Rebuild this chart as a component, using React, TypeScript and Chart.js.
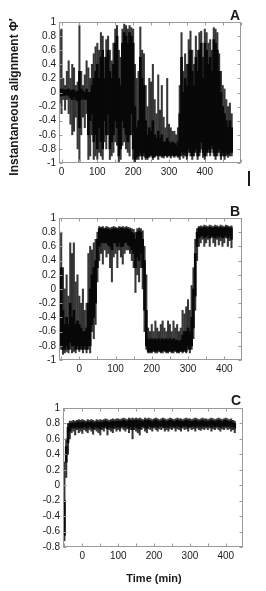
import React, { useEffect, useRef } from "react";
import { Chart, registerables } from "chart.js";
Chart.register(...registerables);

// ---------- Panel A data (time in min, envelope of Φ' per 5-min bin) ----------
const A_T = [-5,0,5,10,15,20,25,30,35,40,45,50,55,60,65,70,75,80,85,90,95,100,105,110,115,120,125,130,135,140,145,150,155,160,165,170,175,180,185,190,195,200,205,210,215,220,225,230,235,240,245,250,255,260,265,270,275,280,285,290,295,300,305,310,315,320,325,330,335,340,345,350,355,360,365,370,375,380,385,390,395,400,405,410,415,420,425,430,435,440,445,450,455,460,465,470,475];
const A_HI = [.88,.9,.2,.1,.3,.45,.2,.4,.35,.1, .15,.95,.3,.1,.25,.45,.35,.2,.4,.55, .65,.7,.6,.85,.8,.5,.75,.8,.6,.45, .7,.9,.95,.6,.5,.9,.97,.95,.9,.95, .92,.9,.4,.2,.3,.93,.6,.55,.1,-.2, .2,.15,.4,-.1,-.3,.25,-.25,.1,-.35,-.5, .2,-.45,-.5,-.55,-.55,-.6,-.5,.1,.85,.3, .55,.4,.75,.87,.6,.4,.8,.6,.85,.87, .5,.9,.85,.7,.75,.6,.92,.9,.85,.55, .3,.1,.05,-.1,-.2,-.15,-.3];
const A_LO = [-.15,-.3,-.1,-.25,-.1,-.3,-.45,-.6,-.55,-.35, -.8,-1,-.6,-.35,-.5,-.3,-.95,-.9,-.6,-.95, -.9,-.95,-.85,-.9,-.95,-.7,-.8,-.6,-.95,-.9, -.85,-.7,-.75,-1,-.95,-.75,-.7,-.8,-.85,-.9, -.6,-.95,-1,-.95,-.95,-.9,-.95,-.9,-.95,-.95, -.92,-.9,-.95,-.92,-.9,-.95,-.9,-.92,-.93,-.9, -.92,-.9,-.93,-.9,-.92,-.9,-.92,-.95,-.9,-.93, -.9,-.95,-.85,-.9,-.95,-.9,-.85,-.95,-.9,-.8, -.92,-.95,-.9,-.85,-.9,-.8,-.9,-.95,-.9,-.85, -.95,-.9,-.95,-.9,-.92,-.9,-.9];
const A_CORE_HI = [.05,.05,.04,.03,.04,.05,.02,.04,.03,0, .02,.3,.05,.02,0,.05,0,0,.1,.2, .3,.4,.2,.5,.6,.2,.5,.6,.3,.2, .4,.7,.8,.2,.1,.7,.85,.8,.7,.85, .8,.7,-.2,-.5,-.4,.5,.2,.1,-.4,-.6, -.5,-.55,-.4,-.6,-.65,-.55,-.65,-.6,-.7,-.7, -.65,-.7,-.72,-.7,-.72,-.75,-.7,-.3,.5,0, .2,.1,.4,.6,.3,.1,.5,.3,.6,.7, .2,.7,.6,.4,.5,.3,.75,.7,.6,.3, 0,-.2,-.3,-.4,-.5,-.4,-.5];
const A_CORE_LO = [-.05,-.05,-.04,-.04,-.03,-.05,-.08,-.1,-.06,-.1, -.12,-.5,-.1,-.08,-.1,-.1,-.6,-.4,-.3,-.7, -.6,-.8,-.5,-.7,-.8,-.4,-.6,-.3,-.8,-.7, -.6,-.4,-.5,-.9,-.8,-.4,-.5,-.6,-.7,-.6, -.3,-.8,-.95,-.92,-.9,-.85,-.9,-.85,-.92,-.92, -.9,-.88,-.92,-.9,-.88,-.9,-.88,-.9,-.9,-.88, -.9,-.88,-.9,-.88,-.9,-.88,-.9,-.9,-.85,-.88, -.85,-.9,-.8,-.85,-.9,-.85,-.8,-.9,-.85,-.7, -.85,-.9,-.85,-.8,-.85,-.75,-.85,-.9,-.85,-.8, -.9,-.85,-.9,-.85,-.88,-.85,-.85];

// ---------- Panel B data ----------
const B_T = [-50,-45,-40,-35,-30,-25,-20,-15,-10,-5,0,5,10,15,20,25,30,35,40,45,50,55,60,65,70,75,80,85,90,95,100,105,110,115,120,125,130,135,140,145,150,155,160,165,170,175,180,185,190,195,200,205,210,215,220,225,230,235,240,245,250,255,260,265,270,275,280,285,290,295,300,305,310,315,320,325,330,335,340,345,350,355,360,365,370,375,380,385,390,395,400,405,410,415,420];
const B_HI = [.8,.3,0,.2,-.1,.65,.5,.65,.1,.2, -.1,-.2,0,-.3,-.2,.5,.6,.55,.65,.7, .8,.88,.87,.88,.86,.88,.87,.86,.87,.88, .87,.86,.88,.87,.88,.87,.88,.87,.86,.85, .84,.8,.85,.86,.85,.82,.6,.2,-.55,-.6, -.5,-.6,-.45,-.55,-.6,-.5,-.45,-.55,-.6,-.45, -.5,-.6,-.45,-.55,-.5,-.6,-.55,-.3,-.35,-.25, -.15,-.3,.05,.3,.7,.85,.88,.89,.88,.9, .89,.88,.9,.89,.88,.9,.89,.88,.9,.89, .88,.9,.89,.88,.89];
const B_LO = [-.85,-.92,-.9,-.88,-.9,-.85,-.9,-.88,-.9,-.85, -.88,-.85,-.9,-.85,-.9,-.85,-.9,-.6,-.7,-.5, .1,.4,.5,.35,.55,.45,.5,.3,.1,.45, .5,.3,.55,.45,.35,.5,.55,.55,.5,.4, .3,-.05,.2,.1,.3,0,-.6,-.85,-.9,-.9, -.9,-.88,-.9,-.9,-.88,-.9,-.9,-.88,-.9,-.9, -.88,-.9,-.9,-.88,-.9,-.9,-.88,-.9,-.88,-.9, -.85,-.9,-.85,-.7,-.3,.4,.6,.65,.7,.6, .65,.7,.6,.72,.65,.6,.7,.62,.68,.6, .65,.72,.6,.68,.58];
const B_CORE_HI = [.3,-.3,-.5,-.4,-.5,-.2,-.4,-.3,-.5,-.45, -.5,-.55,-.6,-.6,-.55,-.2,0,.2,.3,.4, .7,.85,.85,.85,.84,.85,.84,.83,.84,.85, .85,.84,.85,.85,.85,.84,.85,.84,.83,.8, .78,.7,.8,.82,.8,.7,.4,-.3,-.7,-.72, -.7,-.72,-.7,-.72,-.7,-.72,-.7,-.72,-.7,-.72, -.7,-.72,-.7,-.72,-.72,-.74,-.72,-.65,-.6,-.6, -.55,-.6,-.4,0,.5,.8,.86,.86,.86,.87, .86,.86,.87,.86,.86,.87,.86,.86,.87,.86, .86,.87,.86,.86,.86];
const B_CORE_LO = [-.8,-.85,-.85,-.8,-.85,-.75,-.8,-.8,-.85,-.8, -.85,-.8,-.85,-.8,-.85,-.8,-.8,-.5,-.4,-.2, .3,.6,.65,.65,.65,.65,.62,.6,.55,.65, .65,.6,.65,.6,.6,.65,.66,.62,.6,.55, .5,.3,.45,.4,.5,.3,-.3,-.8,-.88,-.88, -.88,-.86,-.88,-.87,-.86,-.88,-.87,-.86,-.88,-.88, -.86,-.88,-.87,-.86,-.88,-.88,-.87,-.88,-.86,-.88, -.8,-.85,-.8,-.55,-.1,.6,.72,.74,.75,.72, .74,.76,.72,.75,.74,.72,.75,.73,.75,.72, .74,.76,.72,.75,.7];

// ---------- Panel C data ----------
const C_T = [-50,-45,-40,-35,-30,-25,-20,-15,-10,-5,0,5,10,15,20,25,30,35,40,45,50,55,60,65,70,75,80,85,90,95,100,105,110,115,120,125,130,135,140,145,150,155,160,165,170,175,180,185,190,195,200,205,210,215,220,225,230,235,240,245,250,255,260,265,270,275,280,285,290,295,300,305,310,315,320,325,330,335,340,345,350,355,360,365,370,375,380,385,390,395,400,405,410,415,420,425];
const C_HI = [.3,.6,.8,.83,.83,.84,.83,.84,.85,.84, .85,.84,.83,.85,.84,.85,.84,.83,.85,.84, .85,.84,.85,.86,.85,.84,.85,.86,.85,.86, .86,.85,.86,.87,.86,.85,.87,.86,.87,.86, .87,.86,.87,.86,.85,.87,.86,.87,.86,.85, .86,.87,.86,.85,.86,.87,.86,.85,.86,.87, .86,.85,.86,.87,.86,.86,.85,.86,.87,.86, .86,.85,.86,.87,.86,.85,.86,.87,.86,.86, .85,.86,.87,.86,.85,.86,.87,.86,.85,.86, .87,.86,.85,.86,.84,.83];
const C_LO = [-.72,.1,.4,.6,.68,.7,.65,.72,.68,.7, .67,.72,.7,.68,.72,.7,.66,.72,.7,.68, .65,.72,.7,.74,.65,.72,.7,.68,.73,.7, .72,.7,.74,.72,.7,.73,.68,.72,.6,.72, .7,.68,.65,.72,.74,.7,.68,.73,.72,.7, .74,.72,.7,.73,.72,.74,.7,.72,.7,.73, .72,.74,.7,.73,.72,.7,.74,.72,.73,.7, .74,.72,.73,.7,.74,.72,.71,.73,.72,.74, .72,.74,.7,.73,.72,.74,.72,.7,.73,.72, .74,.72,.73,.7,.72,.68];
const C_CORE_HI = [-.2,.5,.75,.8,.8,.81,.8,.81,.82,.81, .82,.81,.8,.82,.81,.82,.81,.8,.82,.81, .82,.81,.82,.83,.82,.81,.82,.83,.82,.83, .83,.82,.83,.84,.83,.82,.84,.83,.84,.83, .84,.83,.84,.83,.82,.84,.83,.84,.83,.82, .83,.84,.83,.82,.83,.84,.83,.82,.83,.84, .83,.82,.83,.84,.83,.83,.82,.83,.84,.83, .83,.82,.83,.84,.83,.82,.83,.84,.83,.83, .82,.83,.84,.83,.82,.83,.84,.83,.82,.83, .84,.83,.82,.83,.81,.8];
const C_CORE_LO = [-.65,.3,.55,.7,.74,.75,.74,.76,.74,.75, .74,.76,.75,.74,.76,.75,.73,.76,.75,.74, .73,.76,.75,.77,.73,.76,.75,.74,.77,.75, .76,.75,.77,.76,.75,.77,.74,.76,.72,.76, .75,.74,.73,.76,.77,.75,.74,.77,.76,.75, .77,.76,.75,.77,.76,.77,.75,.76,.75,.77, .76,.77,.75,.77,.76,.75,.77,.76,.77,.75, .77,.76,.77,.75,.77,.76,.75,.77,.76,.77, .76,.77,.75,.77,.76,.77,.76,.75,.77,.76, .77,.76,.77,.75,.76,.74];

// x-axis tick values (tick marks every 50 min) and labelled values
const X_TICKS = [-50, 0, 50, 100, 150, 200, 250, 300, 350, 400, 450, 500];
const X_LABELS = [0, 100, 200, 300, 400];

const FONT = "'Liberation Sans', Arial, Helvetica, sans-serif";
const FRAME = "#9a9a9a";
const TEXT = "#1a1a1a";

type TextItem = { text: string; x: number; y: number; font: string; rotate?: number; align?: CanvasTextAlign; baseline?: CanvasTextBaseline };

const framePlugin = {
  id: "frame",
  afterDatasetsDraw(chart: any, _args: any, opts: any) {
    const { ctx, chartArea: a, scales } = chart;
    ctx.save();
    ctx.strokeStyle = FRAME;
    ctx.lineWidth = 1;
    const l = Math.round(a.left) + 0.5, r = Math.round(a.right) - 0.5;
    const t = Math.round(a.top) + 0.5, b = Math.round(a.bottom) - 0.5;
    ctx.strokeRect(l, t, r - l, b - t);
    const L = 3;
    ctx.beginPath();
    scales.y.ticks.forEach((tk: any) => {
      const y = Math.round(scales.y.getPixelForValue(tk.value)) + 0.5;
      ctx.moveTo(l, y); ctx.lineTo(l + L, y);
      ctx.moveTo(r, y); ctx.lineTo(r - L, y);
    });
    const xl: { v: number; px: number }[] = [];
    scales.x.ticks.forEach((tk: any) => {
      const px = scales.x.getPixelForValue(tk.value);
      const x = Math.round(px) + 0.5;
      ctx.moveTo(x, b); ctx.lineTo(x, b - L);
      ctx.moveTo(x, t); ctx.lineTo(x, t + L);
      if (X_LABELS.includes(tk.value)) xl.push({ v: tk.value, px });
    });
    ctx.stroke();
    ctx.fillStyle = TEXT;
    ctx.font = `10px ${FONT}`;
    ctx.textAlign = "center";
    ctx.textBaseline = "top";
    xl.forEach((it) => ctx.fillText(String(it.v), it.px, a.bottom + 4));
    (opts.texts || []).forEach((it: TextItem) => {
      ctx.save();
      ctx.translate(it.x, it.y);
      if (it.rotate) ctx.rotate(it.rotate);
      ctx.font = it.font;
      ctx.textAlign = it.align || "center";
      ctx.textBaseline = it.baseline || "alphabetic";
      ctx.fillText(it.text, 0, 0);
      ctx.restore();
    });
    ctx.restore();
  },
};

type PanelProps = {
  top: number; height: number;
  T: number[]; HI: number[]; LO: number[]; CHI: number[]; CLO: number[];
  xMin: number; xMax: number; yMin: number; yMax: number;
  yW: number; xH: number; padT: number; padR: number;
  texts: TextItem[];
};

function Panel(p: PanelProps) {
  const ref = useRef<HTMLCanvasElement>(null);
  useEffect(() => {
    if (!ref.current) return;
    const env = p.T.map((t, i) => ({ x: t, y: [p.LO[i], p.HI[i]] }));
    const core = p.T.map((t, i) => ({ x: t, y: [p.CLO[i], p.CHI[i]] }));
    const chart = new Chart(ref.current, {
      type: "bar",
      data: {
        datasets: [
          { data: core as any, backgroundColor: "#080808", borderWidth: 0, barThickness: 2, grouped: false } as any,
          { data: env as any, backgroundColor: "rgba(20,20,20,0.85)", borderWidth: 0, barThickness: 1.4, grouped: false } as any,
        ],
      },
      options: {
        animation: false,
        responsive: false,
        maintainAspectRatio: false,
        layout: { padding: { left: 0, right: p.padR, top: p.padT, bottom: 0 } },
        plugins: { legend: { display: false }, tooltip: { enabled: false }, frame: { texts: p.texts } } as any,
        scales: {
          x: {
            type: "linear", min: p.xMin, max: p.xMax, offset: false,
            grid: { display: false, drawTicks: false }, border: { display: false },
            ticks: { display: false, autoSkip: false, maxRotation: 0, minRotation: 0 },
            afterBuildTicks: (s: any) => {
              s.ticks = X_TICKS.filter((v) => v >= p.xMin && v <= p.xMax).map((v) => ({ value: v }));
            },
            afterFit: (s: any) => { s.height = p.xH; },
          },
          y: {
            type: "linear", min: p.yMin, max: p.yMax,
            grid: { display: false, drawTicks: false }, border: { display: false },
            ticks: {
              stepSize: 0.2, autoSkip: false, padding: 3,
              color: TEXT, font: { family: FONT, size: 10 },
              callback: (v: any) => String(Math.round(Number(v) * 10) / 10),
            },
            afterFit: (s: any) => { s.width = p.yW; },
          },
        } as any,
      },
      plugins: [framePlugin],
    });
    return () => chart.destroy();
  }, []);
  return (
    <canvas ref={ref} width={266} height={p.height}
      style={{ position: "absolute", left: 0, top: p.top, width: 266, height: p.height }} />
  );
}

export default function App() {
  const bold = (s: number) => `bold ${s}px ${FONT}`;
  return (
    <div style={{ position: "absolute", left: 0, top: 0, width: 266, height: 591, background: "#fff" }}>
      <Panel top={0} height={190} T={A_T} HI={A_HI} LO={A_LO} CHI={A_CORE_HI} CLO={A_CORE_LO}
        xMin={-7} xMax={501} yMin={-1} yMax={1} yW={59} xH={27} padT={22} padR={25}
        texts={[
          { text: "A", x: 235, y: 20, font: bold(14) },
          { text: "Instantaneous alignment Φ′", x: 15, y: 97, font: bold(12), rotate: -Math.PI / 2, baseline: "middle" },
          { text: "|", x: 249, y: 183, font: bold(16) },
        ]} />
      <Panel top={190} height={190} T={B_T} HI={B_HI} LO={B_LO} CHI={B_CORE_HI} CLO={B_CORE_LO}
        xMin={-56} xMax={449} yMin={-1} yMax={1} yW={59} xH={20} padT={28} padR={24}
        texts={[{ text: "B", x: 235, y: 26, font: bold(14) }]} />
      <Panel top={380} height={211} T={C_T} HI={C_HI} LO={C_LO} CHI={C_CORE_HI} CLO={C_CORE_LO}
        xMin={-54} xMax={448} yMin={-0.8} yMax={1} yW={63} xH={44} padT={28} padR={23}
        texts={[
          { text: "C", x: 236, y: 25, font: bold(14) },
          { text: "Time (min)", x: 154, y: 199, font: bold(11), baseline: "middle" },
        ]} />
    </div>
  );
}
